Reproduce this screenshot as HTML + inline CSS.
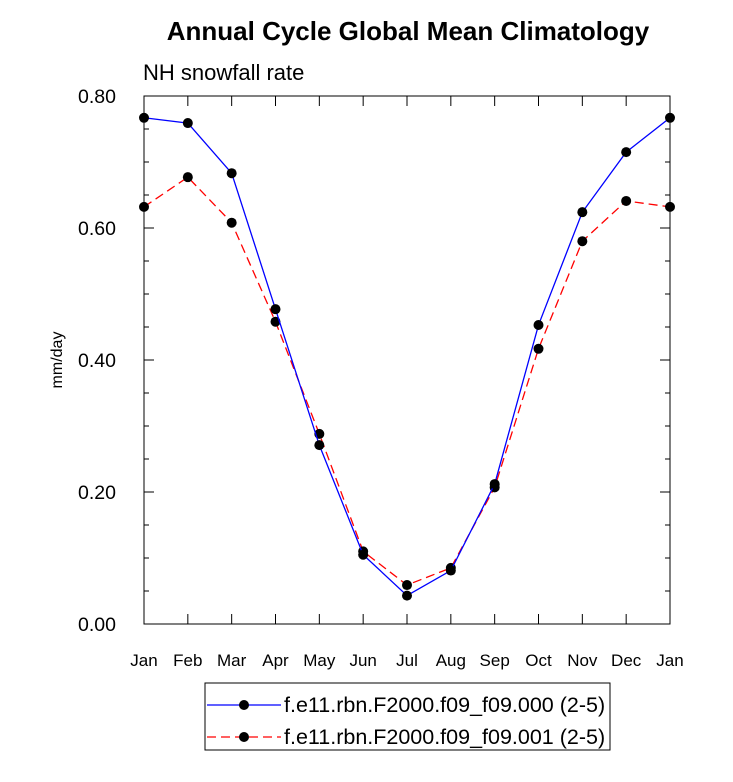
<!DOCTYPE html>
<html><head><meta charset="utf-8"><style>body{margin:0;background:#fff}svg{font-family:"Liberation Sans",sans-serif}</style></head>
<body>
<svg id="c" width="733" height="777">
<text x="408" y="40" text-anchor="middle" font-size="26" font-weight="bold">Annual Cycle Global Mean Climatology</text>
<text x="143" y="80" font-size="22">NH snowfall rate</text>
<text transform="translate(62,360) rotate(-90)" text-anchor="middle" font-size="16">mm/day</text>
<g id="g"></g>
<rect x="205" y="683" width="405" height="67" fill="none" stroke="#000" stroke-width="1"/>
<g>
<line x1="207" y1="705" x2="281" y2="705" stroke="#0000ff" stroke-width="1.3"/><circle cx="244" cy="705" r="5" fill="#000"/>
<text x="284" y="712" font-size="21.5">f.e11.rbn.F2000.f09_f09.000 (2-5)</text></g>
<g>
<line x1="207" y1="737" x2="281" y2="737" stroke="#ff0000" stroke-width="1.3" stroke-dasharray="9,5"/><circle cx="244" cy="737" r="5" fill="#000"/>
<text x="284" y="744" font-size="21.5">f.e11.rbn.F2000.f09_f09.001 (2-5)</text></g>
</svg>
<script>
const months=["Jan","Feb","Mar","Apr","May","Jun","Jul","Aug","Sep","Oct","Nov","Dec","Jan"];
const series000=[0.767,0.759,0.683,0.477,0.271,0.105,0.043,0.081,0.212,0.453,0.624,0.715,0.767];
const series001=[0.632,0.677,0.608,0.458,0.288,0.110,0.059,0.085,0.207,0.417,0.580,0.641,0.632];
const yTicks=[0,0.2,0.4,0.6,0.8];
const yTickLabels=["0.00","0.20","0.40","0.60","0.80"];
const NS="http://www.w3.org/2000/svg",g=document.getElementById('g');
const L=144,R=670,T=96,B=624,yMax=0.8;
const X=i=>L+(R-L)*i/(months.length-1), Y=v=>B-(B-T)*v/yMax;
function mk(t,a){const e=document.createElementNS(NS,t);for(const k in a)e.setAttribute(k,a[k]);g.appendChild(e);return e;}
const frame=mk('rect',{x:L,y:T,width:R-L,height:B-T,fill:'none',stroke:'#000','stroke-width':1});


for(let v=0;v<=yMax+1e-9;v+=0.05){const maj=Math.abs(v/0.2-Math.round(v/0.2))<1e-6,len=maj?10:5;
 mk('line',{x1:L,x2:L+len,y1:Y(v),y2:Y(v),stroke:'#000'});mk('line',{x1:R,x2:R-len,y1:Y(v),y2:Y(v),stroke:'#000'});}
yTicks.forEach((v,i)=>{const t=mk('text',{x:L-28,y:Y(v)+7,'text-anchor':'end','font-size':19.5});t.textContent=yTickLabels[i];
 
 });
months.forEach((m,i)=>{mk('line',{x1:X(i),x2:X(i),y1:B,y2:B-10,stroke:'#000'});mk('line',{x1:X(i),x2:X(i),y1:T,y2:T+10,stroke:'#000'});
 const t=mk('text',{x:X(i),y:B+42,'text-anchor':'middle','font-size':17});t.textContent=m;
 
 });
function draw(d,col,dash,name){const p=mk('polyline',{points:d.map((v,i)=>X(i)+','+Y(v)).join(' '),fill:'none',stroke:col,'stroke-width':1.3,'stroke-dasharray':dash});
 
 
 d.forEach((v,i)=>{const c=mk('circle',{cx:X(i),cy:Y(v),r:5,fill:'#000'});
 
 });}
draw(series001,'#ff0000','9,5','series-001');
draw(series000,'#0000ff','none','series-000');
</script>
</body></html>
